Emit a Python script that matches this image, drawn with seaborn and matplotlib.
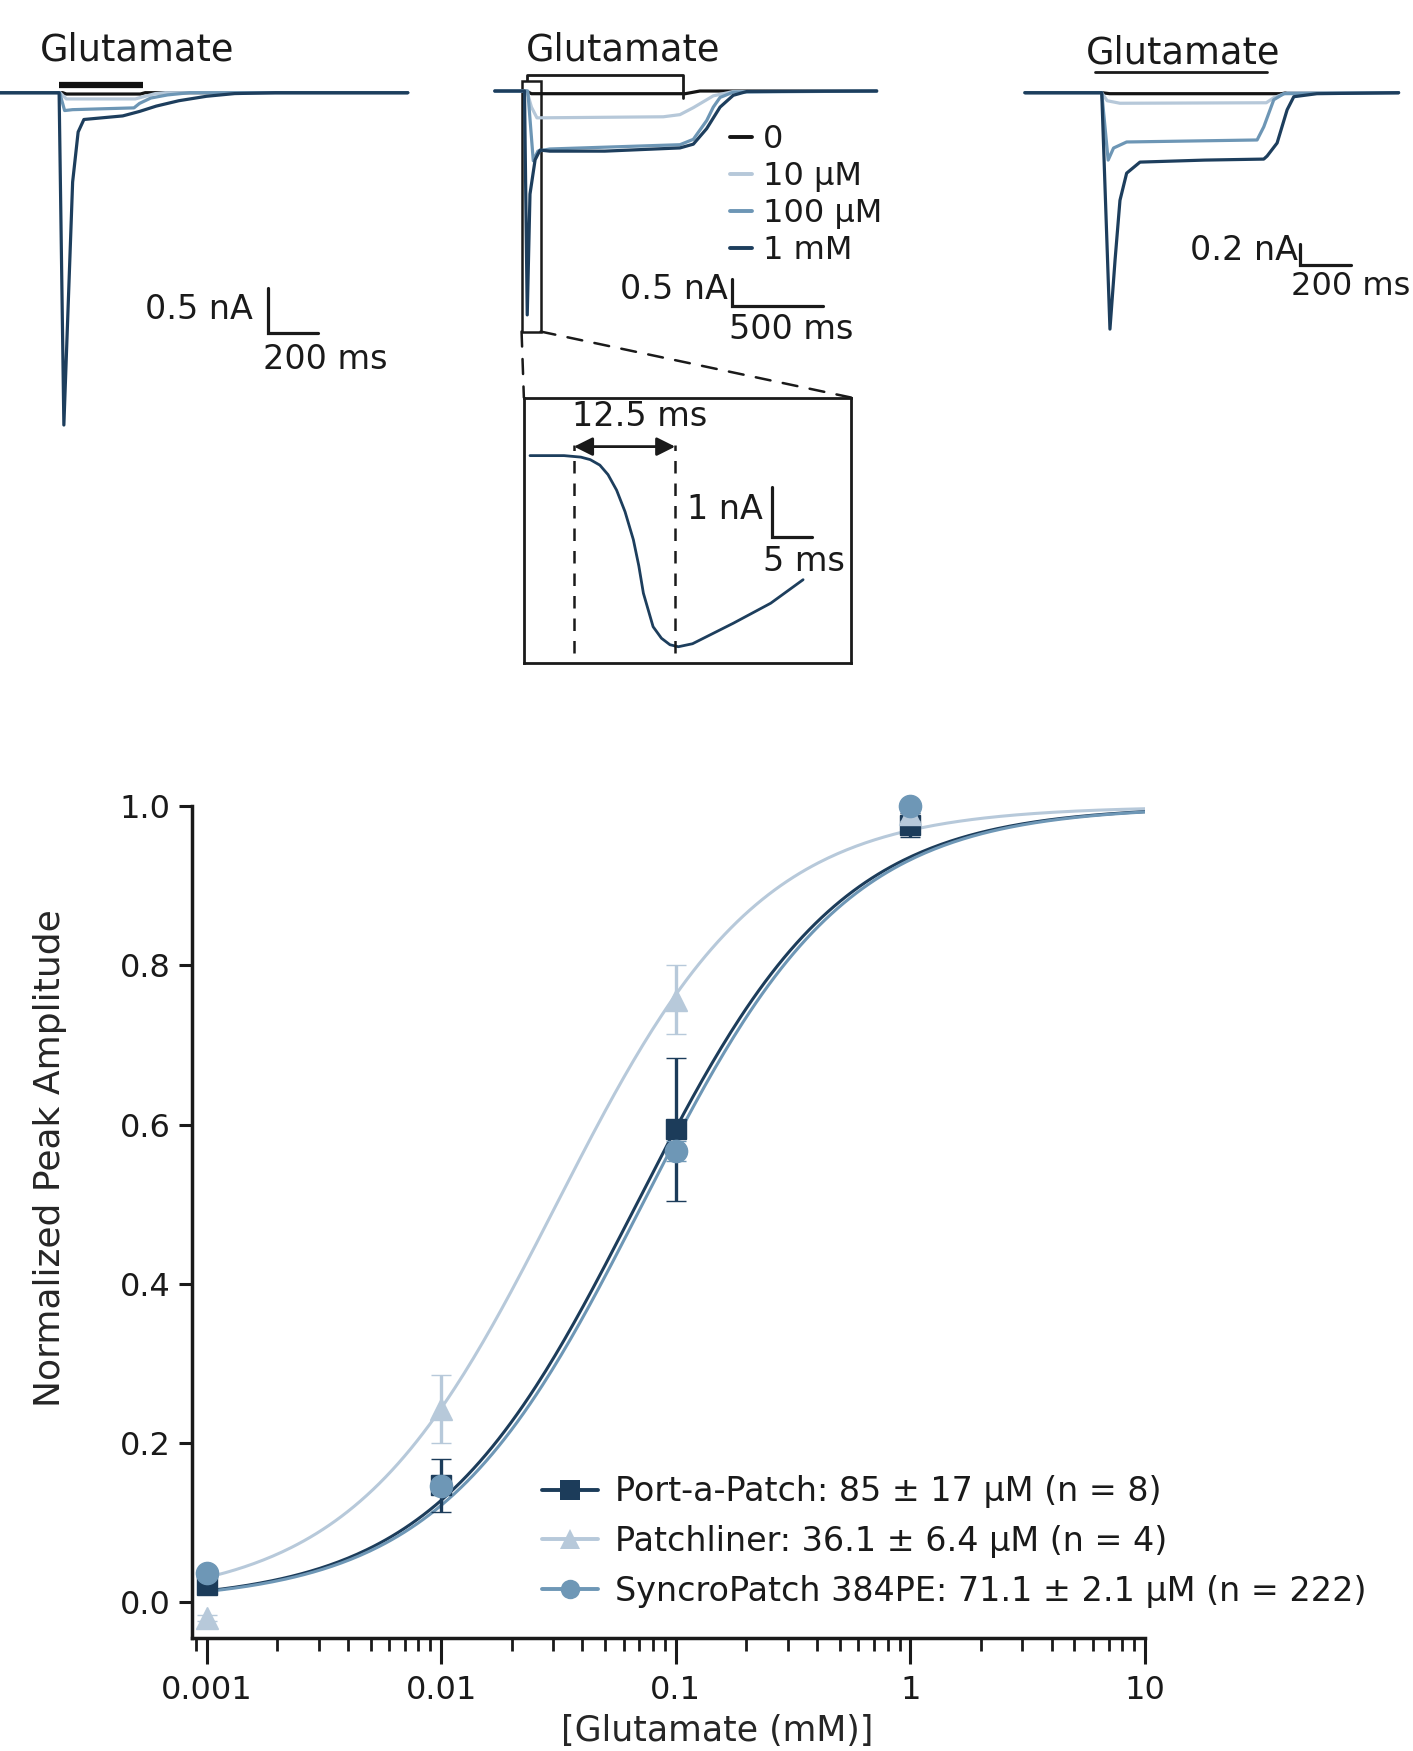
import numpy as np
import pandas as pd
import matplotlib
matplotlib.use('Agg')
import matplotlib.pyplot as plt
import seaborn as sns
from matplotlib.lines import Line2D
from matplotlib.patches import Rectangle, ConnectionPatch
from matplotlib.ticker import LogLocator, NullFormatter

# ---- example current traces: (time in ms, current in nA) ----
conc_labels = ['0', '10 µM', '100 µM', '1 mM']
trace_colors = ['#141414', '#b6c8d9', '#6d96b5', '#1d3e5d']

# Port-a-Patch cell
a_0 = [(0, 0), (250, 0), (265, -0.015), (560, -0.015), (580, 0), (1628, 0)]
a_10 = [(0, 0), (240, 0), (265, -0.07), (540, -0.07), (580, -0.04), (620, -0.01), (660, 0), (1628, 0)]
a_100 = [(0, 0), (238, 0), (258, -0.2), (290, -0.19), (535, -0.17), (557, -0.12),
         (602, -0.06), (669, -0.025), (758, 0), (1628, 0)]
a_1000 = [(0, 0), (236, 0), (255, -3.72), (273, -2.32), (290, -1.0), (312, -0.44), (335, -0.30),
          (490, -0.26), (557, -0.21), (624, -0.15), (714, -0.09), (825, -0.04), (937, -0.01),
          (1100, 0), (1628, 0)]

# Patchliner cell
b_0 = [(0, 0), (170, 0), (200, -0.05), (1040, -0.05), (1120, 0), (2085, 0)]
b_10 = [(0, 0), (175, 0), (200, -0.3), (230, -0.5), (920, -0.48), (1011, -0.44), (1084, -0.31),
        (1193, -0.09), (1302, -0.01), (2085, 0)]
b_100 = [(0, 0), (180, 0), (210, -1.30), (235, -1.12), (300, -1.08), (1011, -1.0), (1084, -0.9),
         (1157, -0.55), (1193, -0.30), (1230, -0.12), (1302, -0.02), (2085, 0)]
b_1000 = [(0, 0), (162, 0), (177, -4.17), (192, -1.92), (220, -1.28), (247, -1.10), (300, -1.12),
          (600, -1.12), (1011, -1.06), (1084, -0.99), (1157, -0.70), (1230, -0.30), (1302, -0.08),
          (1375, -0.01), (2085, 0)]

# SyncroPatch 384PE cell
c_0 = [(0, 0), (300, 0), (330, -0.01), (1000, -0.01), (1020, 0), (1455, 0)]
c_10 = [(0, 0), (299, 0), (320, -0.08), (370, -0.105), (940, -0.1), (969, -0.05), (1021, 0), (1455, 0)]
c_100 = [(0, 0), (299, 0), (324, -0.67), (345, -0.55), (396, -0.49), (904, -0.47), (930, -0.34),
         (969, -0.07), (1008, -0.01), (1455, 0)]
c_1000 = [(0, 0), (299, 0), (331, -2.35), (351, -1.66), (370, -1.07), (396, -0.80), (448, -0.69),
          (700, -0.67), (930, -0.66), (943, -0.63), (982, -0.50), (1021, -0.17), (1047, -0.04),
          (1137, -0.01), (1455, 0)]

# zoom on the Patchliner 1 mM onset
inset_t = [-5.44, -1.23, 0.84, 2.0, 3.19, 4.2, 5.26, 6.3, 7.33, 8.0, 8.57, 9.77, 10.8, 11.85,
           12.89, 14.64, 19.68, 24.3, 28.3]
inset_i = [0, 0, -0.03, -0.08, -0.19, -0.38, -0.69, -1.12, -1.68, -2.2, -2.75, -3.42, -3.65, -3.78,
           -3.82, -3.76, -3.35, -2.95, -2.48]
onset_to_peak_ms = 12.5

# application windows (ms)
glu_a = (236, 571)
glu_b = (174, 1025)
glu_c = (273, 941)

# ---- dose response ----
conc_mM = [0.001, 0.01, 0.1, 1]
pap_mean = [0.022, 0.147, 0.594, 0.977]
pap_sem = [0.006, 0.033, 0.090, 0.015]
pl_mean = [-0.020, 0.243, 0.757, 0.990]
pl_sem = [0.004, 0.043, 0.043, 0.008]
sp_mean = [0.037, 0.146, 0.567, 1.000]
sp_sem = [0.004, 0.006, 0.012, 0.004]

devices = ['Port-a-Patch', 'Patchliner', 'SyncroPatch 384PE']
device_labels = ['Port-a-Patch: 85 ± 17 µM (n = 8)',
                 'Patchliner: 36.1 ± 6.4 µM (n = 4)',
                 'SyncroPatch 384PE: 71.1 ± 2.1 µM (n = 222)']
device_colors = ['#1c3c5a', '#b7c9da', '#6e97b6']
device_markers = ['s', '^', 'o']
fit_ec50_mM = [0.068, 0.031, 0.072]
fit_hill = [1.0, 1.0, 1.0]

sns.set_theme(style='ticks')
plt.rcParams['font.family'] = ['DejaVu Sans']
plt.rcParams['text.color'] = '#1a1a1a'

W, H = 1265, 1568
fig = plt.figure(figsize=(14.13, 17.51), dpi=100)


def trace_axes(box, origin, scale, frame=False):
    left, top, right, bottom = box
    x0, y0 = origin
    sx, sy = scale
    ax = fig.add_axes([left / W, 1 - bottom / H, (right - left) / W, (bottom - top) / H])
    ax.set_xlim((left - x0) * sx, (right - x0) * sx)
    ax.set_ylim((y0 - bottom) * sy, (y0 - top) * sy)
    if frame:
        ax.set_xticks([])
        ax.set_yticks([])
        for s in ax.spines.values():
            s.set_linewidth(2)
            s.set_color('#1a1a1a')
        ax.patch.set_alpha(0)
    else:
        ax.axis('off')
    return ax


def draw_traces(ax, traces):
    rows = []
    for lab, tr in zip(conc_labels, traces):
        for t, i in tr:
            rows.append({'t': t, 'i': i, 'conc': lab})
    df = pd.DataFrame(rows)
    sns.lineplot(data=df, x='t', y='i', hue='conc', hue_order=conc_labels,
                 palette=trace_colors, estimator=None, sort=False, legend=False,
                 lw=2.3, ax=ax)


def scale_bar(ax, x, y, dx, dy, ylab, xlab, ylab_pos, xlab_pos, xha='left', fs=24):
    ax.plot([x, x, x + dx], [y + dy, y, y], color='#1a1a1a', lw=2.3, solid_joinstyle='miter')
    ax.text(*ylab_pos, ylab, ha='right', va='center', fontsize=24)
    ax.text(*xlab_pos, xlab, ha=xha, va='center', fontsize=fs)


# panel A
axA = trace_axes((0, 0, 400, 420), (0, 83), (4.46, 0.0125))
draw_traces(axA, [a_0, a_10, a_100, a_1000])
axA.plot(glu_a, [0.0875, 0.0875], color='#111111', lw=4.5, solid_capstyle='butt')
axA.text(546, 0.475, 'Glutamate', ha='center', va='center', fontsize=26.5)
scale_bar(axA, 1071, -2.69, 200, 0.5, '0.5 nA', '200 ms', (1011, -2.43), (1052, -2.99))

# panel B
axB = trace_axes((430, 0, 800, 320), (443, 81.5), (6.1, 0.0208))
draw_traces(axB, [b_0, b_10, b_100, b_1000])
axB.plot([glu_b[0], glu_b[0], glu_b[1], glu_b[1]], [0.2, 0.30, 0.30, -0.13],
         color='#1a1a1a', lw=2)
axB.text(698, 0.76, 'Glutamate', ha='center', va='center', fontsize=26.5)
scale_bar(axB, 1293, -4.01, 500, 0.5, '0.5 nA', '500 ms', (1275, -3.70), (1621, -4.45), xha='center')
axB.add_patch(Rectangle((146, -4.48), 104, 4.66, fill=False, ec='#1a1a1a', lw=1.8))
handles = [Line2D([0], [0], color=c, lw=2.8) for c in trace_colors]
axB.legend(handles, conc_labels, loc='upper left', bbox_to_anchor=(653.5 / W, 1 - 111 / H),
           bbox_transform=fig.transFigure, frameon=False, fontsize=23, handlelength=0.68,
           handletextpad=0.36, labelspacing=0.19, borderpad=0, borderaxespad=0)

# panel C
axC = trace_axes((900, 0, 1265, 320), (917.6, 83), (4.35, 0.0111))
draw_traces(axC, [c_0, c_10, c_100, c_1000])
axC.plot(glu_c, [0.209, 0.209], color='#1a1a1a', lw=2)
axC.text(617, 0.39, 'Glutamate', ha='center', va='center', fontsize=26.5)
scale_bar(axC, 1071, -1.709, 200, 0.2, '0.2 nA', '200 ms', (1063, -1.57), (1035, -1.93), fs=23)

# inset
axI = trace_axes((469, 356, 762, 594), (513.9, 408), (0.138, 0.02232), frame=True)
sns.lineplot(x=inset_t, y=inset_i, color=trace_colors[3], lw=2.0, ax=axI, sort=False, estimator=None)
axI.vlines([0, onset_to_peak_ms], -3.95, 0.22, colors='#1a1a1a', linestyles=(0, (5, 4)), lw=1.8)
axI.annotate('', xy=(0, 0.18), xytext=(onset_to_peak_ms, 0.18),
             arrowprops=dict(arrowstyle='<|-|>', color='#1a1a1a', lw=2, mutation_scale=28,
                             shrinkA=0, shrinkB=0))
axI.text(8.1, 0.78, f'{onset_to_peak_ms} ms', ha='center', va='center', fontsize=24)
scale_bar(axI, 24.4, -1.62, 5, 1, '1 nA', '5 ms', (23.3, -1.08), (28.4, -2.12), xha='center')

for xa, xb in [((146, -4.48), (0, 1)), ((250, -4.48), (1, 1))]:
    con = ConnectionPatch(xyA=xa, coordsA=axB.transData, xyB=xb, coordsB=axI.transAxes,
                          color='#1a1a1a', lw=1.8, linestyle=(0, (6, 5)))
    fig.add_artist(con)

# ---- dose response plot ----
ax = fig.add_axes([172 / W, 1 - 1467 / H, (1025 - 172) / W, (1467 - 722) / H])
xgrid = np.logspace(-3, 1, 300)
curve_rows = []
for dev, ec, nh in zip(devices, fit_ec50_mM, fit_hill):
    yfit = 1.0 / (1.0 + (ec / xgrid) ** nh)
    curve_rows.append(pd.DataFrame({'conc': xgrid, 'resp': yfit, 'device': dev}))
curves = pd.concat(curve_rows, ignore_index=True)
sns.lineplot(data=curves, x='conc', y='resp', hue='device',
             hue_order=['Patchliner', 'Port-a-Patch', 'SyncroPatch 384PE'],
             palette=dict(zip(devices, device_colors)), estimator=None, sort=False,
             legend=False, lw=2.2, ax=ax)

means = [pap_mean, pl_mean, sp_mean]
sems = [pap_sem, pl_sem, sp_sem]
msizes = [15, 16, 16]
for k in [1, 0, 2]:
    ax.errorbar(conc_mM, means[k], yerr=sems[k], fmt=device_markers[k], color=device_colors[k],
                mec=device_colors[k], ms=msizes[k], mew=1, elinewidth=2.4, capsize=7.5,
                capthick=2.4, clip_on=False, zorder=5 + k)

ax.set_xscale('log')
ax.set_xlim(10 ** -3.062, 10)
ax.set_ylim(-0.045, 1.0)
ax.set_xticks([0.001, 0.01, 0.1, 1, 10])
ax.set_xticklabels(['0.001', '0.01', '0.1', '1', '10'])
ax.xaxis.set_minor_locator(LogLocator(base=10, subs=np.arange(2, 10)))
ax.xaxis.set_minor_formatter(NullFormatter())
ax.set_yticks([0, 0.2, 0.4, 0.6, 0.8, 1.0])
ax.set_yticklabels(['0.0', '0.2', '0.4', '0.6', '0.8', '1.0'])
sns.despine(ax=ax)
for s in ['left', 'bottom']:
    ax.spines[s].set_linewidth(2.5)
    ax.spines[s].set_color('#1a1a1a')
ax.tick_params(axis='both', which='both', direction='out', width=2.2, color='#1a1a1a',
               labelsize=23, labelcolor='#1a1a1a')
ax.tick_params(axis='y', which='major', length=9.5, pad=6)
ax.tick_params(axis='x', which='major', length=18.5, pad=8)
ax.tick_params(axis='x', which='minor', length=9.5, width=2.0)
ax.set_xlabel('[Glutamate (mM)]', fontsize=25, va='top')
ax.set_ylabel('Normalized Peak Amplitude', fontsize=26)
ax.xaxis.set_label_coords(0.551, -0.091)
ax.yaxis.set_label_coords(-0.131, 0.577)
ax.patch.set_alpha(0)

leg_handles = [Line2D([0], [0], color=c, lw=2.8, marker=m, ms=14, mew=0)
               for c, m in zip(device_colors, device_markers)]
ax.legend(leg_handles, device_labels, loc='upper left',
          bbox_to_anchor=(485 / W, 1 - 1321 / H), bbox_transform=fig.transFigure,
          frameon=False, fontsize=24, handlelength=1.7, handletextpad=0.5,
          labelspacing=0.5, borderpad=0, borderaxespad=0)

fig.savefig('out.png', dpi=100)
